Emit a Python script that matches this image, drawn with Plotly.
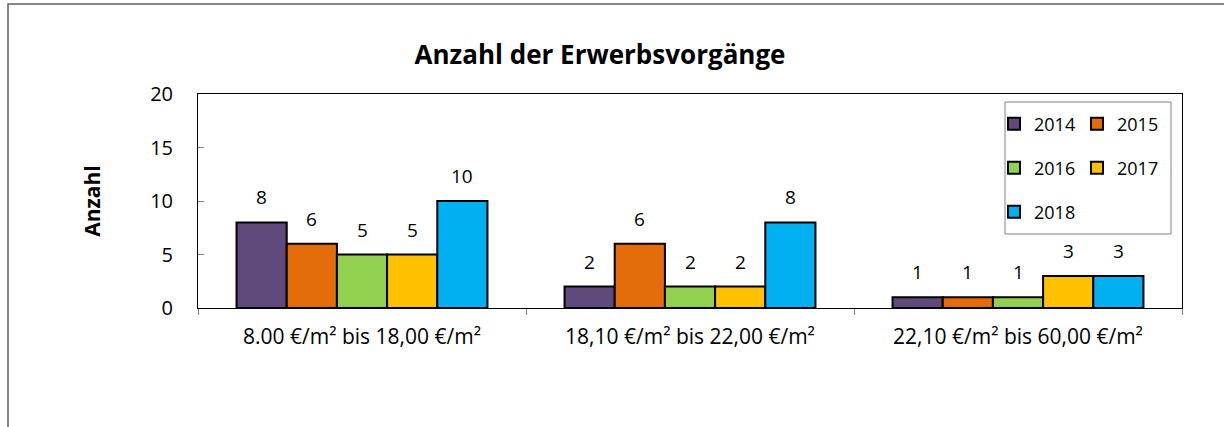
import plotly.graph_objects as go

categories = ["8.00 €/m² bis 18,00 €/m²", "18,10 €/m² bis 22,00 €/m²", "22,10 €/m² bis 60,00 €/m²"]
years = ["2014", "2015", "2016", "2017", "2018"]
v2014 = [8, 2, 1]
v2015 = [6, 6, 1]
v2016 = [5, 2, 1]
v2017 = [5, 2, 3]
v2018 = [10, 8, 3]
series = [v2014, v2015, v2016, v2017, v2018]
colors = ["#604A7B", "#E46C0A", "#92D050", "#FFC000", "#00B0F0"]
legend_ids = ["legend", "legend", "legend2", "legend2", "legend3"]

W, H = 1224, 427
L, R, T, B = 198, 42, 94, 119
pw, ph = W - L - R, H - T - B
FONT = "Open Sans"

def px_x(p):
    return (p - L) / pw

def px_y(p):
    return (H - B - p) / ph

fig = go.Figure()
for i, (yr, vals) in enumerate(zip(years, series)):
    fig.add_trace(go.Bar(
        name=yr, x=categories, y=vals,
        marker=dict(color=colors[i], line=dict(color="black", width=2)),
        legend=legend_ids[i],
    ))

bargap = 0.235
barw_px = pw / len(categories) * (1 - bargap) / len(years)
for i, vals in enumerate(series):
    for c, v in zip(categories, vals):
        fig.add_annotation(x=c, y=v, text=str(v), showarrow=False,
                           xshift=(i - 2) * barw_px, yshift=25,
                           font=dict(family=FONT, size=19, color="black"))

leg_common = dict(orientation="h", xanchor="left", yanchor="middle",
                  bgcolor="rgba(0,0,0,0)", borderwidth=0,
                  font=dict(family=FONT, size=18, color="black"),
                  entrywidth=38, tracegroupgap=0)
lx = px_x(994)
fig.update_layout(
    legend=dict(x=lx, y=px_y(124), **leg_common),
    legend2=dict(x=lx, y=px_y(168), **leg_common),
    legend3=dict(x=lx, y=px_y(212), **leg_common),
)

fig.update_layout(
    width=W, height=H,
    margin=dict(l=L, r=R, t=T, b=B, autoexpand=False),
    paper_bgcolor="white", plot_bgcolor="white",
    barmode="group", bargap=bargap, bargroupgap=0,
    font=dict(family=FONT, size=18, color="black"),
    title=dict(text="<b>Anzahl der Erwerbsvorgänge</b>", x=600 / W, xanchor="center",
               y=1 - 55 / H, yanchor="middle",
               font=dict(family=FONT, size=26, color="black")),
    xaxis=dict(showline=True, linecolor="black", linewidth=1, mirror=True,
               ticks="outside", ticklen=6, tickcolor="#808080", tickson="boundaries",
               ticklabelstandoff=10,
               tickfont=dict(family=FONT, size=21), showgrid=False),
    yaxis=dict(range=[0, 20], dtick=5, showline=True, linecolor="black", linewidth=1,
               mirror=True, ticks="inside", ticklen=6, tickcolor="#808080",
               showgrid=False, zeroline=False, ticklabelstandoff=20,
               tickfont=dict(family=FONT, size=20),
               title=dict(text="<b>Anzahl</b>", standoff=43,
                          font=dict(family=FONT, size=21))),
    showlegend=True,
)

# legend box
fig.add_shape(type="rect", xref="paper", yref="paper",
              x0=px_x(1005), x1=px_x(1171), y0=px_y(234), y1=px_y(102),
              line=dict(color="#808080", width=1), fillcolor="rgba(0,0,0,0)")
# outer chart border
fig.add_shape(type="rect", xref="paper", yref="paper",
              x0=px_x(8), x1=px_x(1240), y0=px_y(440), y1=px_y(4),
              line=dict(color="#606060", width=1.5), fillcolor="rgba(0,0,0,0)")

fig.write_html("out.html", config={"displayModeBar": False},
               post_script="document.body.style.margin='0';")
